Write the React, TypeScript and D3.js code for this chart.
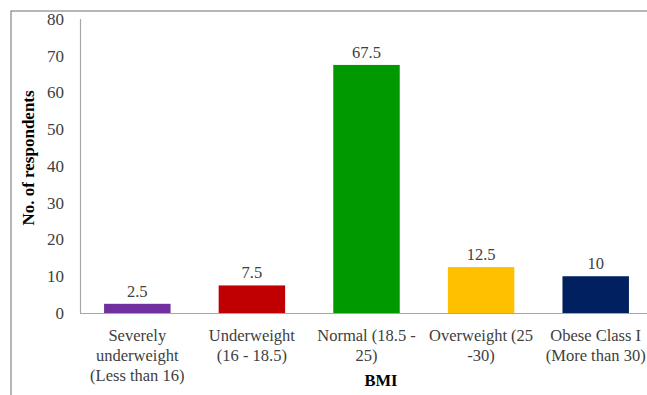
import React from "react";
import * as d3 from "d3";

const categories: string[][] = [
  ["Severely", "underweight", "(Less than 16)"],
  ["Underweight", "(16 - 18.5)"],
  ["Normal (18.5 -", "25)"],
  ["Overweight (25", "-30)"],
  ["Obese Class I", "(More than 30)"],
];
const values: number[] = [2.5, 7.5, 67.5, 12.5, 10];
const valueLabels: string[] = ["2.5", "7.5", "67.5", "12.5", "10"];
const colors: string[] = ["#7030A0", "#C00000", "#009900", "#FFC000", "#002060"];
const yTicks: number[] = [0, 10, 20, 30, 40, 50, 60, 70, 80];

const W = 647;
const H = 395;
const FONT = "Liberation Serif, Times New Roman, Times, serif";

export default function App() {
  const x = d3
    .scaleBand<number>()
    .domain(d3.range(values.length))
    .range([80, 653])
    .paddingInner(0.42)
    .paddingOuter(0.21);
  const y = d3.scaleLinear().domain([0, 80]).range([313, 19]);
  const bw = x.bandwidth();

  return (
    <svg
      width={W}
      height={H}
      style={{ position: "absolute", left: 0, top: 0, background: "#fff", fontFamily: FONT }}
    >
      <rect x={11} y={11} width={W} height={H} fill="#fff" stroke="#6e6e6e" strokeWidth={1} />

      {/* y-axis */}
      <line x1={80.5} x2={80.5} y1={y(80)} y2={y(0)} stroke="#a6a6a6" strokeWidth={1.2} />
      {yTicks.map((t) => (
        <text key={t} x={64} y={y(t)} dy="0.35em" textAnchor="end" fontSize={17} fill="#404040" style={{ fontFamily: FONT }}>
          {t}
        </text>
      ))}

      {/* bars */}
      {values.map((v, i) => (
        <g key={i}>
          <rect x={x(i)} y={y(v)} width={bw} height={y(0) - y(v)} fill={colors[i]} />
          <text
            x={(x(i) as number) + bw / 2}
            y={y(v) - 7}
            textAnchor="middle"
            fontSize={16.5}
            fill="#404040"
            style={{ fontFamily: FONT }}
          >
            {valueLabels[i]}
          </text>
        </g>
      ))}

      {/* x-axis baseline */}
      <line x1={80} x2={W} y1={313.5} y2={313.5} stroke="#a6a6a6" strokeWidth={1.2} />

      {/* category labels */}
      {categories.map((lines, i) => (
        <text
          key={i}
          x={(x(i) as number) + bw / 2}
          y={341}
          textAnchor="middle"
          fontSize={16.5}
          fill="#404040"
          style={{ fontFamily: FONT }}
        >
          {lines.map((l, j) => (
            <tspan key={j} x={(x(i) as number) + bw / 2} dy={j === 0 ? 0 : 20}>
              {l}
            </tspan>
          ))}
        </text>
      ))}

      {/* axis titles */}
      <text x={381} y={386} textAnchor="middle" fontSize={16.5} fontWeight="bold" fill="#000" style={{ fontFamily: FONT }}>
        BMI
      </text>
      <text
        transform="translate(34,158) rotate(-90)"
        textAnchor="middle"
        fontSize={17}
        fontWeight="bold"
        fill="#000"
        style={{ fontFamily: FONT }}
      >
        No. of respondents
      </text>
    </svg>
  );
}
